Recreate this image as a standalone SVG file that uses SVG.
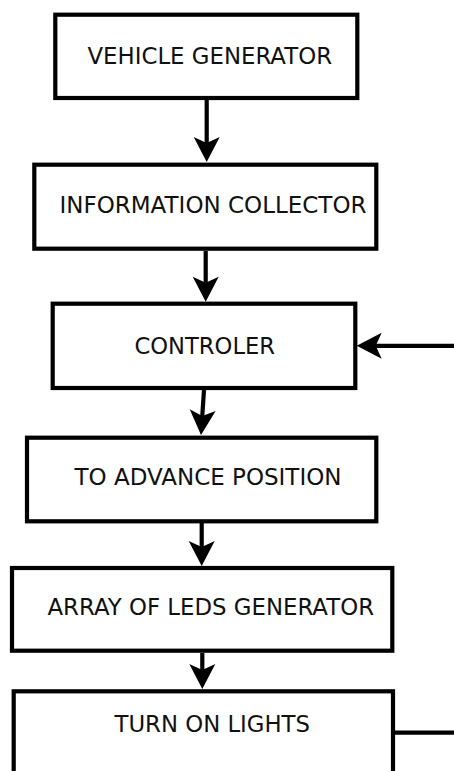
<svg xmlns="http://www.w3.org/2000/svg" width="454" height="771" viewBox="0 0 454 771">
  <style>
    .box { fill: #ffffff; stroke: #000000; stroke-width: 4.2; }
    .lbl { font-family: "DejaVu Sans", Verdana, sans-serif; font-size: 23.5px; fill: #111111; }
    .conn { stroke: #000000; stroke-width: 4.2; fill: none; }
  </style>
  <defs>
    <marker id="ah" markerUnits="userSpaceOnUse" viewBox="-27 -15 29 30" markerWidth="29" markerHeight="30" refX="-15" refY="0" orient="auto">
      <path d="M0,0 L-25,-13 L-19,0 L-25,13 Z" fill="#000000"/>
    </marker>
  </defs>
  <rect width="454" height="771" fill="#ffffff"/>

  <g id="connectors">
    <line class="conn" x1="206.7" y1="100" x2="206.7" y2="147" marker-end="url(#ah)"/>
    <line class="conn" x1="205.7" y1="251" x2="205.7" y2="286.7" marker-end="url(#ah)"/>
    <line class="conn" x1="204" y1="390" x2="202" y2="420" marker-end="url(#ah)"/>
    <line class="conn" x1="201.7" y1="523" x2="201.7" y2="551" marker-end="url(#ah)"/>
    <line class="conn" x1="202.3" y1="653" x2="202.3" y2="674" marker-end="url(#ah)"/>
    <line class="conn" x1="454" y1="345.8" x2="371.7" y2="345.8" marker-end="url(#ah)"/>
    <line class="conn" x1="393" y1="732.7" x2="454" y2="732.7"/>
  </g>

  <g id="vehicle-generator">
    <rect class="box" x="55.3" y="14.7" width="302" height="83.3"/>
    <text class="lbl" x="87.5" y="64" textLength="244.5" lengthAdjust="spacingAndGlyphs">VEHICLE GENERATOR</text>
  </g>
  <g id="information-collector">
    <rect class="box" x="34.3" y="164.7" width="342" height="84"/>
    <text class="lbl" x="59.5" y="213.3" textLength="307" lengthAdjust="spacingAndGlyphs">INFORMATION COLLECTOR</text>
  </g>
  <g id="controler">
    <rect class="box" x="52.7" y="303.7" width="302.6" height="84.3"/>
    <text class="lbl" x="134.5" y="354.3" textLength="140.5" lengthAdjust="spacingAndGlyphs">CONTROLER</text>
  </g>
  <g id="to-advance-position">
    <rect class="box" x="27" y="437.7" width="349.3" height="83.6"/>
    <text class="lbl" x="74.5" y="485" textLength="267" lengthAdjust="spacingAndGlyphs">TO ADVANCE POSITION</text>
  </g>
  <g id="array-of-leds-generator">
    <rect class="box" x="12" y="568" width="380.3" height="82.7"/>
    <text class="lbl" x="47.5" y="615" textLength="326.5" lengthAdjust="spacingAndGlyphs">ARRAY OF LEDS GENERATOR</text>
  </g>
  <g id="turn-on-lights">
    <rect class="box" x="13.7" y="691.3" width="379.3" height="120"/>
    <text class="lbl" x="114.5" y="732.3" textLength="195.5" lengthAdjust="spacingAndGlyphs">TURN ON LIGHTS</text>
  </g>
</svg>
